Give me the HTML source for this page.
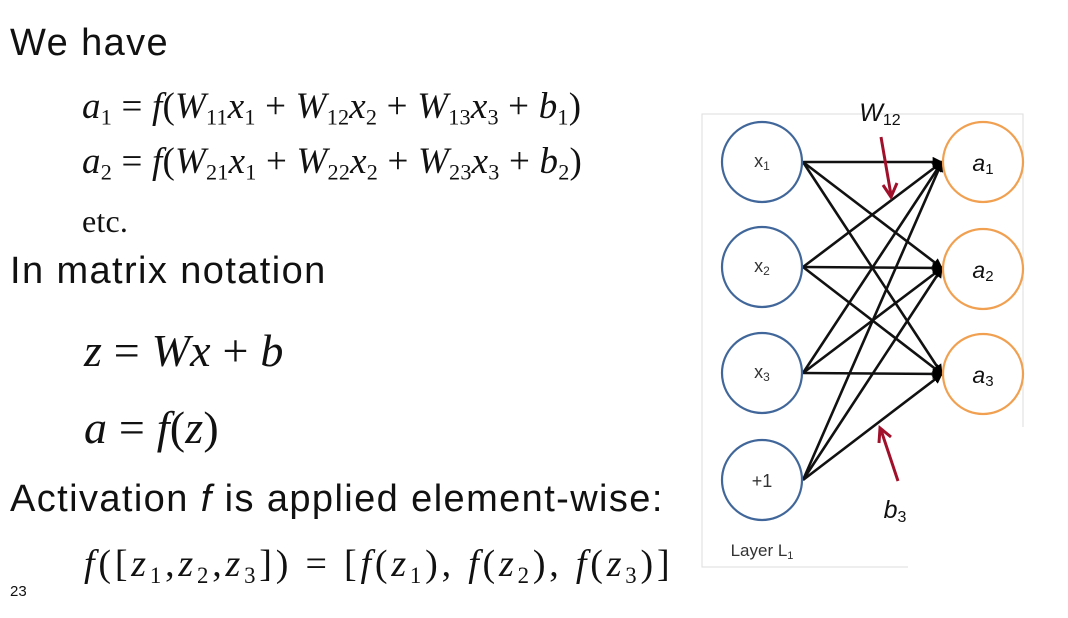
<!DOCTYPE html>
<html><head><style>
body{margin:0;width:1068px;height:618px;background:#fff;position:relative;overflow:hidden;font-family:"Liberation Sans",sans-serif}
.t{position:absolute;white-space:nowrap;color:#111;line-height:1}
.s{font-size:38px;letter-spacing:1.4px}
.m{font-family:"Liberation Serif",serif;font-size:37px;letter-spacing:0.2px}
.m i{font-style:italic}
sub{font-size:60%;vertical-align:-0.3em;font-style:normal}
</style></head><body>
<div class="t s" style="left:10px;top:24px">We have</div>
<div class="t m" style="left:82px;top:88px"><i>a</i><sub>1</sub> = <i>f</i>(<i>W</i><sub>11</sub><i>x</i><sub>1</sub> + <i>W</i><sub>12</sub><i>x</i><sub>2</sub> + <i>W</i><sub>13</sub><i>x</i><sub>3</sub> + <i>b</i><sub>1</sub>)</div>
<div class="t m" style="left:82px;top:143px"><i>a</i><sub>2</sub> = <i>f</i>(<i>W</i><sub>21</sub><i>x</i><sub>1</sub> + <i>W</i><sub>22</sub><i>x</i><sub>2</sub> + <i>W</i><sub>23</sub><i>x</i><sub>3</sub> + <i>b</i><sub>2</sub>)</div>
<div class="t m" style="left:82px;top:205px;font-size:32px">etc.</div>
<div class="t s" style="left:10px;top:252px">In matrix notation</div>
<div class="t m" style="left:84px;top:328px;font-size:46px"><i>z</i> = <i>Wx</i> + <i>b</i></div>
<div class="t m" style="left:84px;top:405px;font-size:46px"><i>a</i> = <i>f</i>(<i>z</i>)</div>
<div class="t s" style="left:10px;top:480px">Activation <i>f</i> is applied element-wise:</div>
<div class="t m" style="left:84px;top:545px;font-size:38px;letter-spacing:3.8px"><i>f</i>([<i>z</i><sub>1</sub>,<i>z</i><sub>2</sub>,<i>z</i><sub>3</sub>]) = [<i>f</i>(<i>z</i><sub>1</sub>), <i>f</i>(<i>z</i><sub>2</sub>), <i>f</i>(<i>z</i><sub>3</sub>)]</div>
<div class="t" style="left:10px;top:584px;font-size:15px">23</div>
<svg style="position:absolute;left:0;top:0" width="1068" height="618">
<defs><marker id="ah" viewBox="0 0 10 10" refX="9" refY="5" markerWidth="4" markerHeight="4" orient="auto"><path d="M0,0L10,5L0,10z" fill="#000"/></marker></defs>
<path d="M702,427V114H1023V427M702,114V567H908" fill="none" stroke="#ddd" stroke-width="1"/>
<g stroke="#111" stroke-width="2.6" marker-end="url(#ah)">
<line x1="803" y1="162" x2="942" y2="162"/><line x1="803" y1="162" x2="942" y2="268"/><line x1="803" y1="162" x2="942" y2="374"/>
<line x1="803" y1="267" x2="942" y2="162"/><line x1="803" y1="267" x2="942" y2="268"/><line x1="803" y1="267" x2="942" y2="374"/>
<line x1="803" y1="373" x2="942" y2="162"/><line x1="803" y1="373" x2="942" y2="268"/><line x1="803" y1="373" x2="942" y2="374"/>
<line x1="803" y1="480" x2="942" y2="162"/><line x1="803" y1="480" x2="942" y2="268"/><line x1="803" y1="480" x2="942" y2="374"/>
</g>
<g fill="#fff" stroke="#41679a" stroke-width="2.2">
<circle cx="762" cy="162" r="40"/><circle cx="762" cy="267" r="40"/><circle cx="762" cy="373" r="40"/><circle cx="762" cy="480" r="40"/></g>
<g fill="#fff" stroke="#f0a050" stroke-width="2.2">
<circle cx="983" cy="162" r="40"/><circle cx="983" cy="269" r="40"/><circle cx="983" cy="374" r="40"/></g>
<g font-family="Liberation Sans" font-size="18" fill="#333" text-anchor="middle">
<text x="762" y="167">x<tspan font-size="12" dy="3">1</tspan></text>
<text x="762" y="272">x<tspan font-size="12" dy="3">2</tspan></text>
<text x="762" y="378">x<tspan font-size="12" dy="3">3</tspan></text>
<text x="762" y="487">+1</text>
<text x="762" y="556" font-size="17">Layer L<tspan font-size="11" dy="3">1</tspan></text>
</g>
<g font-family="Liberation Sans" font-size="23" font-style="italic" fill="#111" text-anchor="middle">
<text x="983" y="171">a<tspan font-size="15" dy="3" font-style="normal">1</tspan></text>
<text x="983" y="278">a<tspan font-size="15" dy="3" font-style="normal">2</tspan></text>
<text x="983" y="383">a<tspan font-size="15" dy="3" font-style="normal">3</tspan></text>
<text x="880" y="121" font-size="25">W<tspan font-size="16" dy="4" font-style="normal">12</tspan></text>
<text x="895" y="518" font-size="25">b<tspan font-size="16" dy="4" font-style="normal">3</tspan></text>
</g>
<g stroke="#a0102a" stroke-width="3" fill="none">
<line x1="881" y1="137" x2="891" y2="195"/><path d="M883,185L891,197L897,183"/>
<line x1="898" y1="481" x2="881" y2="430"/><path d="M879,443L880,428L891,437"/>
</g>
</svg>
</body></html>
